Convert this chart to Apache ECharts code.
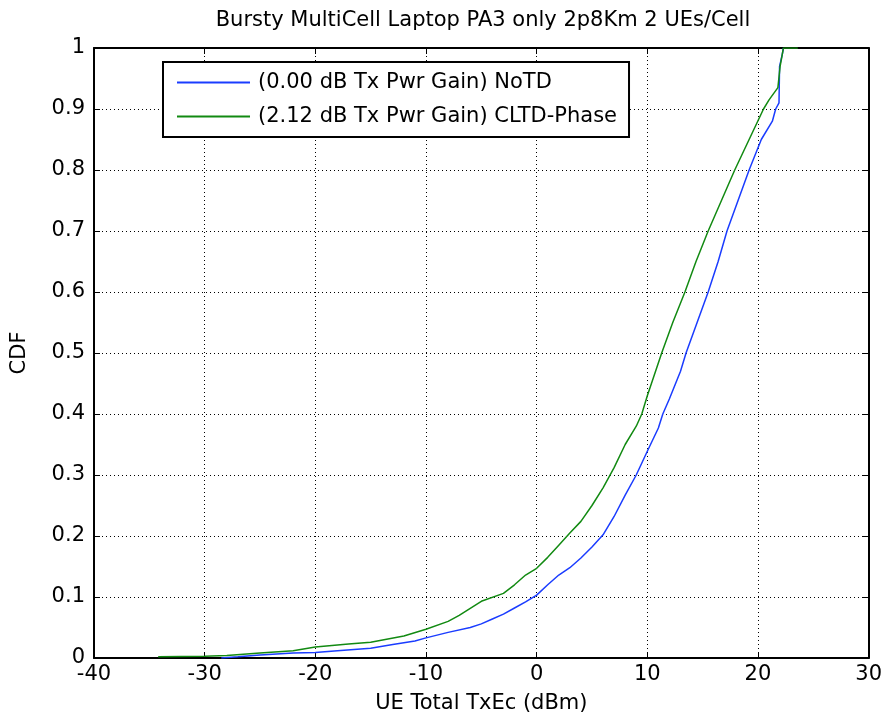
<!DOCTYPE html>
<html>
<head>
<meta charset="utf-8">
<script src="https://cdn.jsdelivr.net/npm/echarts@6/dist/echarts.min.js"></script>
<style>html,body{margin:0;padding:0;background:#fff;}#c{width:885px;height:719px;}</style>
</head>
<body>
<div id="c"></div>
<script>
const titleText = 'Bursty MultiCell Laptop PA3 only 2p8Km 2 UEs/Cell';
const xName = 'UE Total TxEc (dBm)';
const yName = 'CDF';
const seriesNames = ['(0.00 dB Tx Pwr Gain) NoTD', '(2.12 dB Tx Pwr Gain) CLTD-Phase'];
const xTicks = [-40, -30, -20, -10, 0, 10, 20, 30];
const yTicks = [0, 0.1, 0.2, 0.3, 0.4, 0.5, 0.6, 0.7, 0.8, 0.9, 1];

const blueX = [-28.5, -27, -25, -22, -20, -18, -15, -13, -11, -10, -8, -6, -5, -4, -3, -2, -1, 0, 1, 2, 3, 4, 5, 6, 7, 8, 9, 10, 11, 11.4, 12, 13, 13.5, 14.5, 15.5, 16.4, 17.2, 18.2, 19.2, 20.3, 21.3, 21.6, 21.9, 21.95, 22.2, 22.3];
const blueY = [0, 0.002, 0.005, 0.008, 0.009, 0.012, 0.016, 0.022, 0.028, 0.033, 0.042, 0.05, 0.056, 0.064, 0.072, 0.082, 0.092, 0.103, 0.12, 0.136, 0.148, 0.164, 0.182, 0.202, 0.232, 0.267, 0.3, 0.339, 0.377, 0.40, 0.425, 0.47, 0.50, 0.55, 0.60, 0.65, 0.70, 0.75, 0.80, 0.85, 0.88, 0.90, 0.91, 0.97, 0.99, 1.0];

const greenX = [-34.2, -30, -28, -25, -22, -20, -17, -15, -12, -10, -8, -7, -5, -3, -2, -1, 0, 1, 2, 3, 4, 5, 6, 7, 8, 9, 9.5, 10, 11.3, 12.3, 13.4, 14.4, 15.5, 16.7, 17.9, 19.2, 20.5, 21.0, 21.8, 22.0, 22.3, 23.6];
const greenY = [0.002, 0.003, 0.004, 0.008, 0.012, 0.018, 0.023, 0.026, 0.036, 0.047, 0.06, 0.07, 0.093, 0.106, 0.12, 0.136, 0.147, 0.165, 0.185, 0.205, 0.224, 0.25, 0.279, 0.312, 0.35, 0.38, 0.40, 0.43, 0.50, 0.55, 0.60, 0.65, 0.70, 0.75, 0.80, 0.85, 0.90, 0.915, 0.935, 0.97, 1.0, 1.0];

const blueData = blueX.map((x, i) => [x, blueY[i]]);
const greenData = greenX.map((x, i) => [x, greenY[i]]);

const FONT = '"DejaVu Sans", "Liberation Sans", Arial, sans-serif';
const FS = 21;
const chart = echarts.init(document.getElementById('c'), null, {renderer: 'canvas'});

const axisLine = {show: true, onZero: false, lineStyle: {color: '#000', width: 2}};
const tick = {show: true, inside: true, length: 6, lineStyle: {color: '#000', width: 1}};
const split = {show: true, lineStyle: {color: '#000', type: [1, 3], width: 1}};

chart.setOption({
  animation: false,
  backgroundColor: '#fff',
  title: {
    text: titleText, left: 478, top: 5, textAlign: 'center',
    textStyle: {fontFamily: FONT, fontWeight: 'normal', fontSize: FS, color: '#000'}
  },
  grid: {left: 94, right: 15, top: 48, bottom: 59, containLabel: false},
  legend: {
    orient: 'vertical', left: 163, top: 62, icon: 'rect',
    backgroundColor: '#fff', borderColor: '#000', borderWidth: 2, borderRadius: 0,
    padding: [10, 12, 10, 14], itemGap: 13, itemWidth: 73, itemHeight: 2,
    textStyle: {fontFamily: FONT, fontSize: FS, color: '#000', lineHeight: 20, padding: [0, 0, 0, 3]},
    data: seriesNames
  },
  xAxis: [{
    type: 'value', min: -40, max: 30, interval: 10,
    name: xName, nameLocation: 'middle', nameGap: 35,
    nameTextStyle: {fontFamily: FONT, fontSize: FS, color: '#000'},
    axisLine: axisLine, axisTick: tick, splitLine: split,
    axisLabel: {fontFamily: FONT, fontSize: FS, color: '#000', margin: 6}
  }, {
    type: 'value', min: -40, max: 30, interval: 10, position: 'top',
    axisLine: axisLine, axisTick: tick, splitLine: {show: false}, axisLabel: {show: false}
  }],
  yAxis: [{
    type: 'value', min: 0, max: 1, interval: 0.1,
    name: yName, nameLocation: 'middle', nameGap: 64, nameRotate: 90,
    nameTextStyle: {fontFamily: FONT, fontSize: FS, color: '#000'},
    axisLine: axisLine, axisTick: tick, splitLine: split,
    axisLabel: {fontFamily: FONT, fontSize: FS, color: '#000', margin: 9,
      formatter: v => (Math.round(v * 10) / 10).toString()}
  }, {
    type: 'value', min: 0, max: 1, interval: 0.1, position: 'right',
    axisLine: axisLine, axisTick: tick, splitLine: {show: false}, axisLabel: {show: false}
  }],
  series: [{
    name: seriesNames[0], type: 'line', data: blueData, symbol: 'none', smooth: false,
    lineStyle: {color: '#1a3cff', width: 1.5}, itemStyle: {color: '#1a3cff'}, z: 3
  }, {
    name: seriesNames[1], type: 'line', data: greenData, symbol: 'none', smooth: false,
    lineStyle: {color: '#128a12', width: 1.5}, itemStyle: {color: '#128a12'}, z: 4
  }]
});
</script>
</body>
</html>
